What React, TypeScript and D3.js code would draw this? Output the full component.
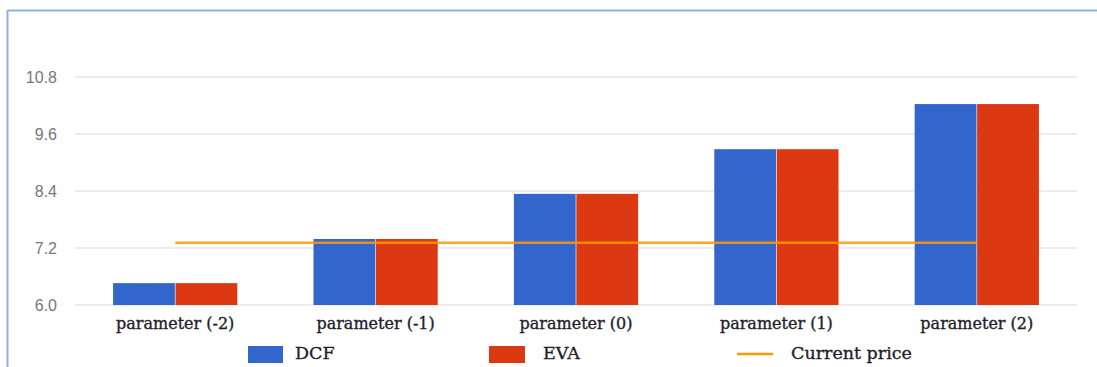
import React from "react";
import * as d3 from "d3";

const categories = ["parameter (-2)", "parameter (-1)", "parameter (0)", "parameter (1)", "parameter (2)"];
const dcfValues = [6.46, 7.39, 8.34, 9.28, 10.23];
const evaValues = [6.46, 7.39, 8.34, 9.28, 10.23];
const currentPrice = [7.31, 7.31, 7.31, 7.31, 7.31];
const yTicks = [6.0, 7.2, 8.4, 9.6, 10.8];
const seriesNames = ["DCF", "EVA", "Current price"];

const W = 1097;
const H = 367;
const BLUE = "#3366cc";
const RED = "#dc3912";
const ORANGE = "#ff9900";
const SERIF = "'DejaVu Serif', serif";
const TEXT = "#241d2c";

export default function App() {
  const left = 75;
  const right = 1077;
  const x = d3.scaleBand<string>().domain(categories).range([left, right]).paddingInner(0.38).paddingOuter(0.19);
  const y = d3.scaleLinear().domain([6.0, 10.8]).range([305, 77]);
  const inner = d3.scaleBand<string>().domain(["DCF", "EVA"]).range([0, x.bandwidth()]).paddingInner(0.01);
  const center = (c: string) => (x(c) as number) + x.bandwidth() / 2;

  const line = d3
    .line<number>()
    .x((_, i) => center(categories[i]))
    .y((d) => y(d));

  const serifText = { fontFamily: SERIF, fill: TEXT, stroke: TEXT, strokeWidth: 0.35 };

  return (
    <svg
      width={W}
      height={H}
      style={{ position: "absolute", left: 0, top: 0, background: "#fff" }}
    >
      {/* frame */}
      <line x1={7.5} y1={10.5} x2={W} y2={10.5} stroke="#8fb0dd" strokeWidth={2} />
      <line x1={7.5} y1={10} x2={7.5} y2={H} stroke="#8fb0dd" strokeWidth={2} />

      {/* gridlines and y tick labels */}
      {yTicks.map((t) => (
        <g key={t}>
          <line x1={left} x2={right} y1={y(t)} y2={y(t)} stroke="#d9d9d9" strokeWidth={1} />
          <text
            x={57}
            y={y(t)}
            dy="0.36em"
            textAnchor="end"
            fontFamily="Arial, 'Liberation Sans', sans-serif"
            fontSize={16}
            fill="#777"
          >
            {t.toFixed(1)}
          </text>
        </g>
      ))}

      {/* bars */}
      {categories.map((c, i) => (
        <g key={c} transform={`translate(${x(c)},0)`}>
          <rect
            x={inner("DCF")}
            y={y(dcfValues[i])}
            width={inner.bandwidth()}
            height={y(6.0) - y(dcfValues[i])}
            fill={BLUE}
          />
          <rect
            x={inner("EVA")}
            y={y(evaValues[i])}
            width={inner.bandwidth()}
            height={y(6.0) - y(evaValues[i])}
            fill={RED}
          />
        </g>
      ))}

      {/* current price line */}
      <path d={line(currentPrice) || ""} fill="none" stroke={ORANGE} strokeWidth={2.5} strokeOpacity={0.85} />

      {/* category labels */}
      {categories.map((c) => (
        <text key={c} x={center(c)} y={329} textAnchor="middle" fontSize={16} {...serifText}>
          {c}
        </text>
      ))}

      {/* legend */}
      <rect x={248} y={346} width={35} height={17} fill={BLUE} />
      <text x={295} y={359} fontSize={17.5} {...serifText}>
        {seriesNames[0]}
      </text>
      <rect x={489} y={346} width={36} height={17} fill={RED} />
      <text x={543} y={359} fontSize={17.5} {...serifText}>
        {seriesNames[1]}
      </text>
      <line x1={737} x2={773} y1={354} y2={354} stroke={ORANGE} strokeWidth={2.5} />
      <text x={791} y={359} fontSize={17.5} {...serifText}>
        {seriesNames[2]}
      </text>
    </svg>
  );
}
